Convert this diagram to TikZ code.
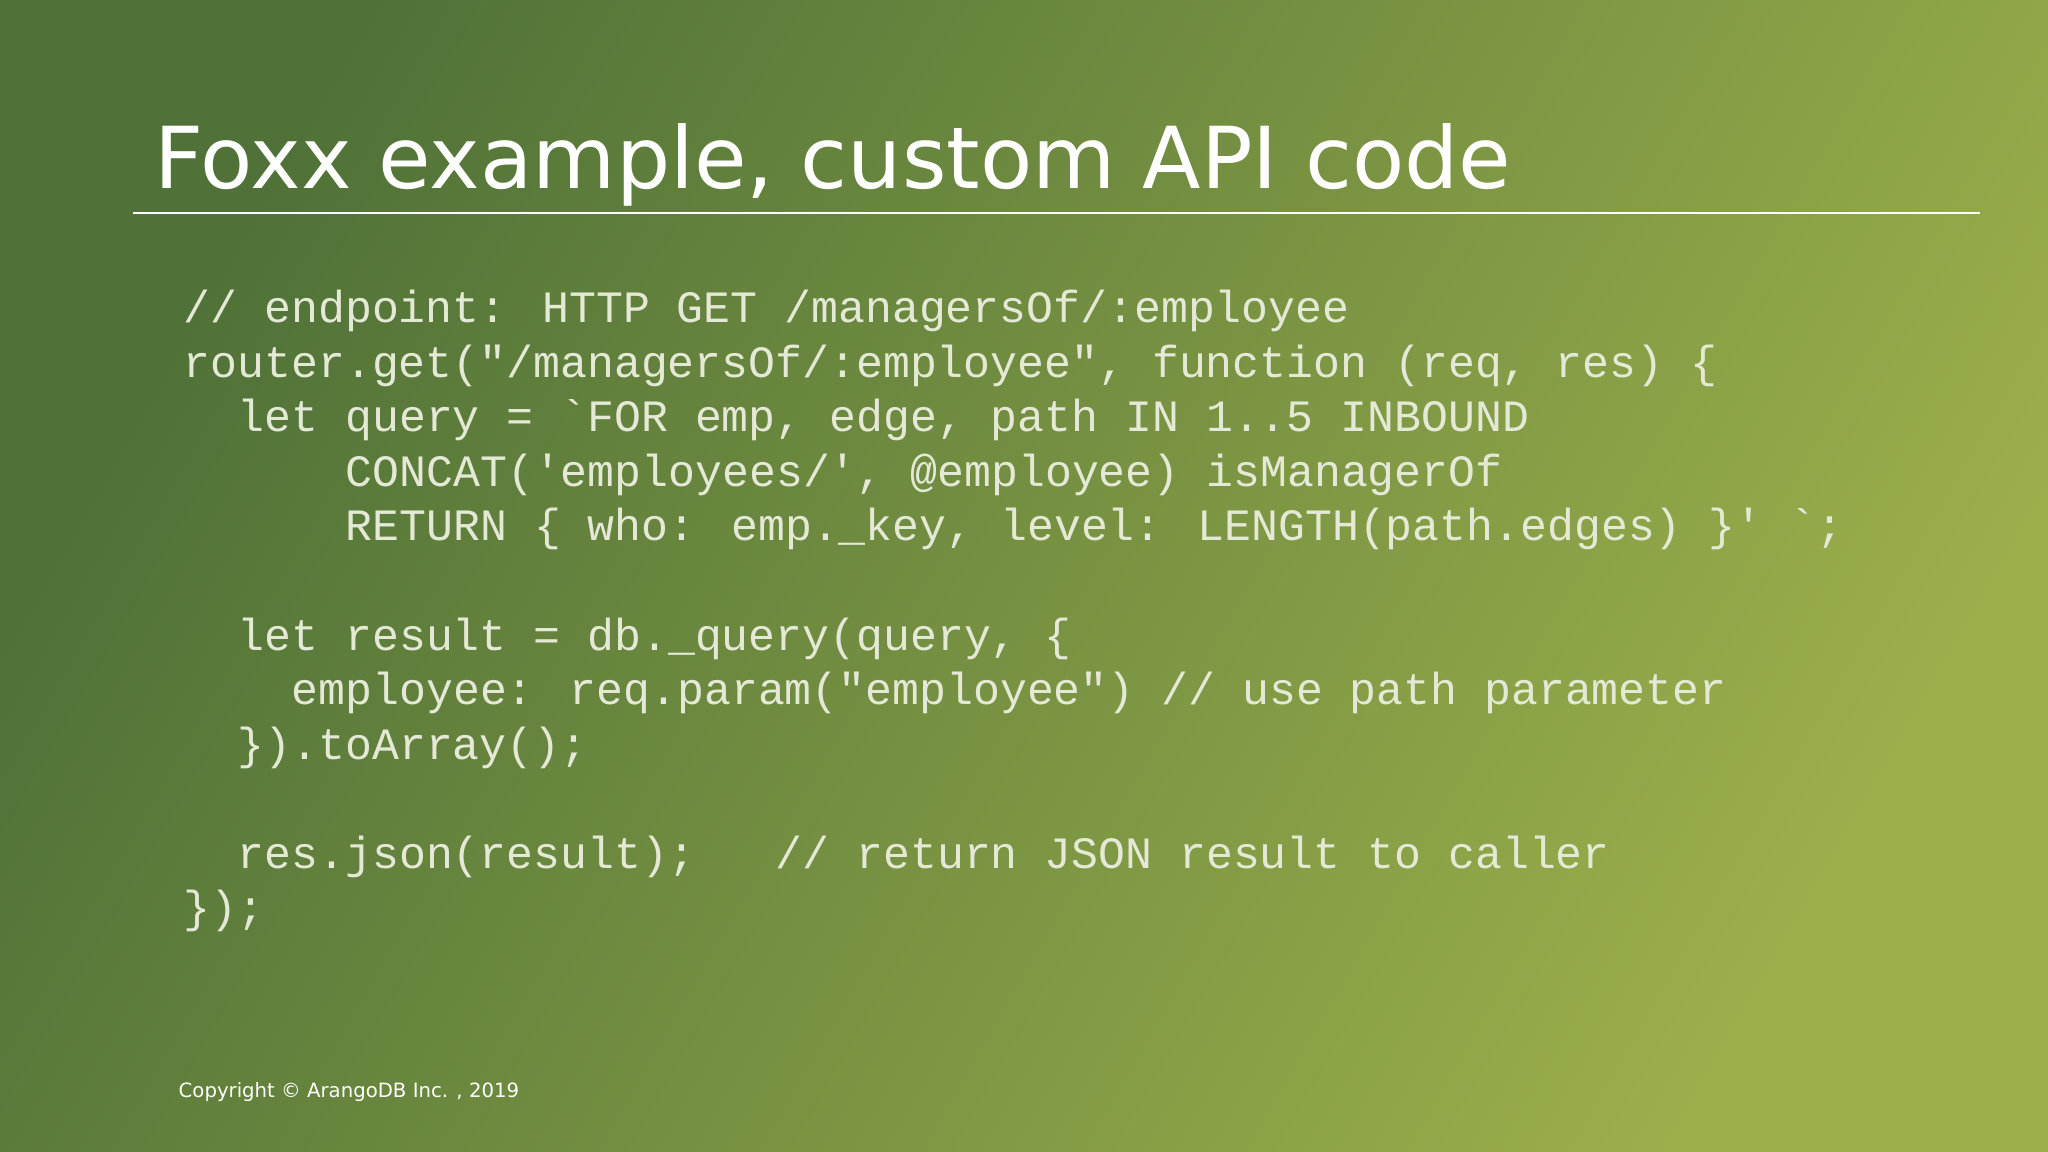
\documentclass[tikz,border=0pt]{standalone}
\usepackage{fontspec}
\setmainfont{DejaVu Sans}
\newfontfamily\codefont{Liberation Mono}
\definecolor{codecol}{HTML}{E4E9D6}
\definecolor{bgA}{HTML}{507238}
\definecolor{bgB}{HTML}{9CAF4B}
\begin{document}
\begin{tikzpicture}[x=0.01cm,y=-0.01cm,
  codeline/.style={anchor=base west,inner sep=0,text=codecol,font=\codefont\fontsize{12.75pt}{14pt}\selectfont}]
\shade[shading=axis,left color=bgA,right color=bgB,shading angle=60] (0,0) rectangle (2048,1152);
\useasboundingbox (0,0) rectangle (2048,1152);
\node[anchor=base west,inner sep=0,text=white,font=\fontsize{24.3pt}{28pt}\selectfont] (title) at (154,189) {Foxx example, custom API code};
\draw[white,line width=0.8pt] (133,213) coordinate (l1) -- (1980,213) coordinate (l2);
\newcommand{\cl}[4]{\node[codeline] (#1) at ({183+#2*27},{323+#3*54.5}) {#4};}
\cl{c0}{0}{0}{// endpoint: HTTP GET /managersOf/:employee}
\cl{c1}{0}{1}{router.get("/managersOf/:employee", function (req, res) \{}
\cl{c2}{2}{2}{let query = `FOR emp, edge, path IN 1..5 INBOUND}
\cl{c3}{6}{3}{CONCAT('employees/', @employee) isManagerOf}
\cl{c4}{6}{4}{RETURN \{ who: emp.\_key, level: LENGTH(path.edges) \}' `;}
\cl{c6}{2}{6}{let result = db.\_query(query, \{}
\cl{c7}{4}{7}{employee: req.param("employee") // use path parameter}
\cl{c8}{2}{8}{\}).toArray();}
\cl{c10}{2}{10}{res.json(result);\ \ \ // return JSON result to caller}
\cl{c11}{0}{11}{\});}
\node[anchor=base west,inner sep=0,text=white,font=\fontsize{5.6pt}{7pt}\selectfont] (copy) at (178,1097) {Copyright © ArangoDB Inc. , 2019};
\end{tikzpicture}
\end{document}
